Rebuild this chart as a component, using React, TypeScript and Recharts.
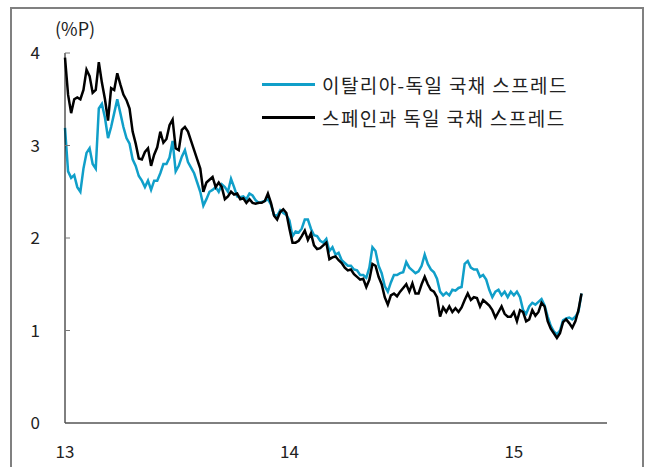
import { Legend, Line, LineChart, XAxis, YAxis } from 'recharts';

const FONT = "'Noto Sans CJK KR', 'Noto Sans', sans-serif";

// 2013년 초부터 5일 간격
const START_YEAR = 13;
const STEP_DAYS = 5;

const italySpread = [
  3.19, 2.72, 2.65, 2.68, 2.55, 2.5, 2.75, 2.92, 2.97, 2.8, 2.75, 3.4, 3.45, 3.3, 3.08, 3.2, 3.35,
  3.5, 3.35, 3.2, 3.08, 3.02, 2.85, 2.78, 2.67, 2.62, 2.55, 2.62, 2.52, 2.62, 2.62, 2.7, 2.8, 2.8,
  2.87, 3.05, 2.72, 2.78, 2.88, 2.95, 2.82, 2.76, 2.7, 2.6, 2.5, 2.35, 2.42, 2.5, 2.52, 2.55, 2.5,
  2.58, 2.55, 2.5, 2.64, 2.55, 2.45, 2.44, 2.45, 2.42, 2.48, 2.46, 2.41, 2.38, 2.39, 2.4, 2.42,
  2.36, 2.25, 2.24, 2.3, 2.27, 2.25, 2.19, 2.02, 2.07, 2.06, 2.1, 2.2, 2.2, 2.1, 2.03, 2.02, 1.97,
  1.95, 1.99, 1.86, 1.9, 1.82, 1.84, 1.76, 1.73, 1.7, 1.7, 1.66, 1.65, 1.6, 1.6, 1.57, 1.68, 1.9,
  1.86, 1.7, 1.62, 1.48, 1.42, 1.52, 1.6, 1.6, 1.62, 1.63, 1.74, 1.68, 1.65, 1.62, 1.64, 1.7, 1.82,
  1.72, 1.66, 1.63, 1.56, 1.42, 1.38, 1.41, 1.38, 1.44, 1.43, 1.46, 1.47, 1.72, 1.75, 1.68, 1.66,
  1.66, 1.58, 1.6, 1.55, 1.44, 1.36, 1.42, 1.44, 1.38, 1.42, 1.36, 1.42, 1.38, 1.42, 1.36, 1.22,
  1.18, 1.26, 1.3, 1.28, 1.31, 1.34, 1.27, 1.15, 1.05, 0.99, 0.96, 1.0, 1.11, 1.13, 1.14, 1.12,
  1.15, 1.2, 1.4,
];

const spainSpread = [
  3.95, 3.55, 3.35, 3.5, 3.52, 3.5, 3.6, 3.82, 3.75, 3.57, 3.6, 3.9, 3.68, 3.5, 3.27, 3.62, 3.6,
  3.78, 3.66, 3.55, 3.49, 3.4, 3.15, 3.02, 2.86, 2.85, 2.93, 2.97, 2.78, 2.9, 2.98, 3.15, 3.03,
  3.07, 3.22, 3.28, 2.97, 2.95, 3.17, 3.2, 3.15, 3.05, 2.95, 2.85, 2.75, 2.5, 2.6, 2.63, 2.66,
  2.55, 2.6, 2.55, 2.42, 2.45, 2.5, 2.47, 2.48, 2.42, 2.43, 2.38, 2.42, 2.38, 2.37, 2.38, 2.38,
  2.4, 2.48, 2.38, 2.24, 2.2, 2.28, 2.31, 2.27, 2.1, 1.95, 1.95, 1.97, 2.02, 2.08, 1.98, 2.05,
  1.92, 1.88, 1.89, 1.92, 1.95, 1.77, 1.79, 1.8, 1.76, 1.73, 1.68, 1.65, 1.66, 1.61, 1.58, 1.55,
  1.56, 1.47, 1.55, 1.72, 1.7, 1.58, 1.5, 1.36, 1.28, 1.38, 1.4, 1.37, 1.42, 1.46, 1.5, 1.42,
  1.51, 1.4, 1.4, 1.5, 1.58, 1.5, 1.44, 1.42, 1.36, 1.15, 1.25, 1.2, 1.26, 1.2, 1.24, 1.2, 1.25,
  1.33, 1.4, 1.33, 1.36, 1.35, 1.26, 1.33, 1.3, 1.27, 1.22, 1.14, 1.2, 1.26, 1.18, 1.15, 1.15,
  1.2, 1.1, 1.22, 1.2, 1.1, 1.12, 1.22, 1.16, 1.2, 1.3, 1.26, 1.1, 1.02, 0.97, 0.92, 0.97, 1.09,
  1.12, 1.08, 1.03, 1.1, 1.22, 1.4,
];

const xTicks = [13, 14, 15];
const yTicks = [0, 1, 2, 3, 4];
const seriesNames = ['이탈리아-독일 국채 스프레드', '스페인과 독일 국채 스프레드'];
const seriesColors = ['#109fc9', '#000000'];

const data = italySpread.map((v, i) => ({
  t: START_YEAR + (i * STEP_DAYS) / 365,
  italy: v,
  spain: spainSpread[i],
}));

function YTick(props: any) {
  const { x, y, payload } = props;
  return (
    <g>
      <line x1={x} x2={x + 5} y1={y} y2={y} stroke="#777" />
      <text x={x - 25} y={y} dy="0.355em" textAnchor="end" fontSize={17} fontFamily={FONT} fill="#222">
        {payload.value}
      </text>
    </g>
  );
}

function renderLegend() {
  return (
    <div style={{ fontFamily: FONT, fontSize: 19, letterSpacing: 1.4, color: '#222' }}>
      {seriesNames.map((name, i) => (
        <div key={name} style={{ display: 'flex', alignItems: 'center', height: 33, whiteSpace: 'nowrap' }}>
          <span style={{ display: 'inline-block', width: 53, height: 3, background: seriesColors[i], marginRight: 7 }} />
          <span>{name}</span>
        </div>
      ))}
    </div>
  );
}

export default function App() {
  return (
    <div style={{ position: 'absolute', left: 0, top: 0, width: 647, height: 467, overflow: 'hidden', background: '#fff' }}>
      <div
        style={{
          position: 'absolute',
          left: 10,
          top: 7,
          width: 634,
          height: 480,
          boxSizing: 'border-box',
          border: '2px solid #808080',
        }}
      />
      <div style={{ position: 'absolute', left: 55, top: 16, fontFamily: FONT, fontSize: 18, lineHeight: '24px', color: '#222' }}>
        (%P)
      </div>
      <div style={{ position: 'absolute', left: 0, top: 0 }}>
        <LineChart width={647} height={467} data={data} margin={{ top: 53, right: 40, bottom: 0, left: 0 }}>
          <XAxis
            dataKey="t"
            type="number"
            domain={[13, 15.415]}
            ticks={xTicks}
            height={44}
            axisLine={{ stroke: '#000' }}
            tickLine={false}
            tickSize={0}
            tickMargin={23}
            tick={{ fill: '#222', fontSize: 17, fontFamily: FONT }}
          />
          <YAxis
            type="number"
            domain={[0, 4]}
            ticks={yTicks}
            width={65}
            axisLine={{ stroke: '#000' }}
            tickLine={false}
            tickSize={0}
            tickMargin={0}
            tick={<YTick />}
          />
          <Legend
            layout="horizontal"
            verticalAlign="middle"
            align="center"
            content={renderLegend}
            wrapperStyle={{ left: 262, top: 68, width: 340 }}
          />
          <Line dataKey="italy" name={seriesNames[0]} stroke={seriesColors[0]} strokeWidth={2.5} dot={false} isAnimationActive={false} />
          <Line dataKey="spain" name={seriesNames[1]} stroke={seriesColors[1]} strokeWidth={2.5} dot={false} isAnimationActive={false} />
        </LineChart>
      </div>
    </div>
  );
}
